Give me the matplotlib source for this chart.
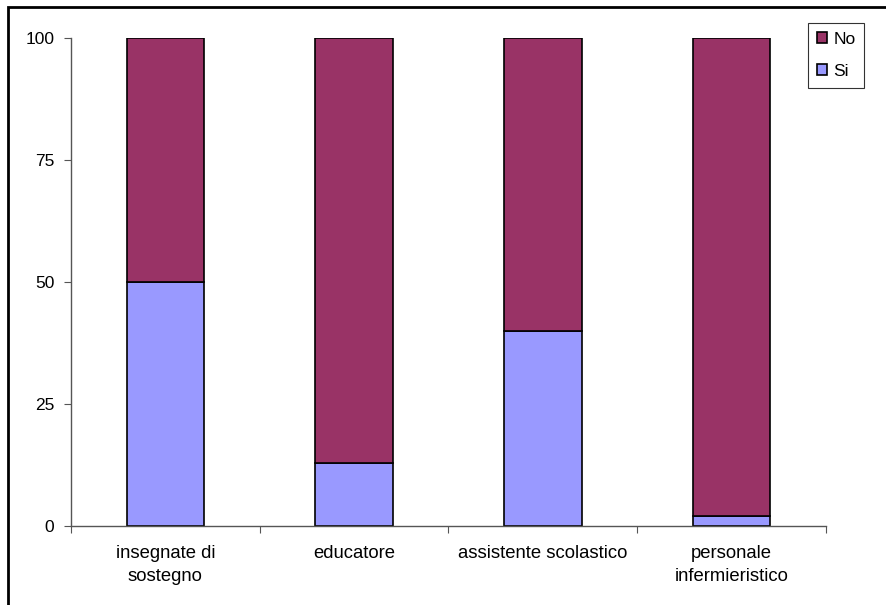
import matplotlib
matplotlib.use("Agg")
import matplotlib.pyplot as plt
from matplotlib.patches import Rectangle

plt.rcParams['font.family'] = ['Liberation Sans', 'DejaVu Sans']

categories = ["insegnate di\nsostegno", "educatore", "assistente scolastico", "personale\ninfermieristico"]
si = [50, 13, 40, 2]
no = [50, 87, 60, 98]
yticks = [0, 25, 50, 75, 100]

W, H = 887, 605
fig = plt.figure(figsize=(W / 100, H / 100), dpi=100)

# outer chart frame (extends past the right and bottom edges)
fig.patches.append(Rectangle((8.5 / W, -0.05), 1.2, 1 - 6.5 / H + 0.05,
                             transform=fig.transFigure, fill=False,
                             edgecolor='black', linewidth=2, zorder=0))

ax = fig.add_axes([71 / W, 1 - 526 / H, (826 - 71) / W, (526 - 38) / H])
x = range(len(categories))
ax.bar(x, si, width=0.41, color='#9999FF', edgecolor='black', linewidth=1.2, label='Si')
ax.bar(x, no, width=0.41, bottom=si, color='#993366', edgecolor='black', linewidth=1.2, label='No')

ax.set_xlim(-0.5, len(categories) - 0.5)
ax.set_ylim(0, 100)
ax.set_yticks(yticks)
ax.set_yticklabels([str(v) for v in yticks], fontsize=12.5)
ax.set_xticks([i - 0.5 for i in range(len(categories) + 1)])
ax.set_xticklabels([])
ax.set_xticks(list(x), minor=True)
ax.set_xticklabels(categories, minor=True, fontsize=13.3, linespacing=1.45)
ax.tick_params(axis='x', which='minor', length=0, pad=14)
ax.tick_params(axis='x', which='major', direction='out', length=5, color='#555555')
ax.tick_params(axis='y', direction='out', length=5, color='#555555', pad=7)
for s in ['top', 'right']:
    ax.spines[s].set_visible(False)
for s in ['left', 'bottom']:
    ax.spines[s].set_color('#555555')
    ax.spines[s].set_linewidth(1)

handles, labels = ax.get_legend_handles_labels()
leg = fig.legend(handles[::-1], labels[::-1], loc='upper left',
                 bbox_to_anchor=(808 / W, 1 - 23 / H), fontsize=12.5,
                 frameon=True, fancybox=False, edgecolor='black',
                 handlelength=0.6, handleheight=0.6, handletextpad=0.35,
                 borderpad=0.5, labelspacing=1.0, borderaxespad=0)
leg.get_frame().set_linewidth(0.8)

fig.savefig("out.png", dpi=100)
